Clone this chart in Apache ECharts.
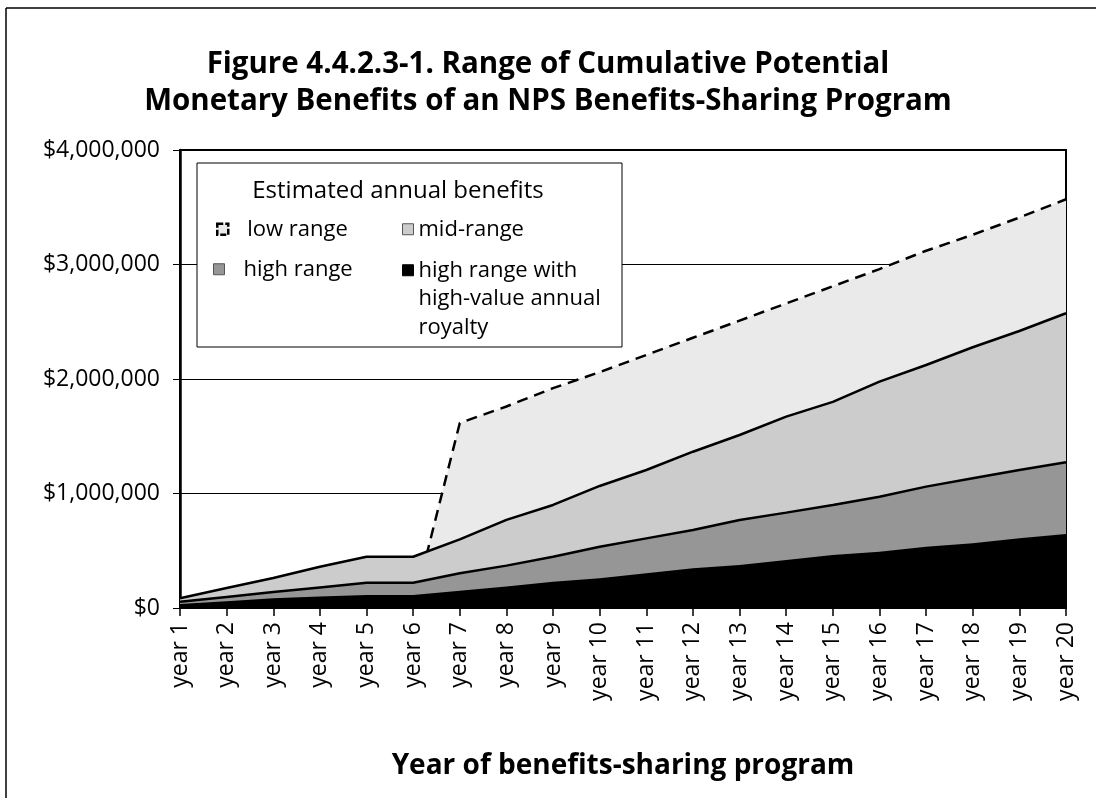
<!DOCTYPE html>
<html>
<head>
<meta charset="utf-8">
<script src="https://cdn.jsdelivr.net/npm/echarts@6/dist/echarts.min.js"></script>
<style>
  html, body { margin: 0; padding: 0; background: #fff; }
  #chart { width: 1096px; height: 798px; }
</style>
</head>
<body>
<div id="chart"></div>
<script>
// 年份分类
const years = ['year 1', 'year 2', 'year 3', 'year 4', 'year 5', 'year 6', 'year 7', 'year 8', 'year 9', 'year 10',
  'year 11', 'year 12', 'year 13', 'year 14', 'year 15', 'year 16', 'year 17', 'year 18', 'year 19', 'year 20'];

// 各方案累计收益
const lowRange = [null, null, null, null, null, 0, 1616000, 1760000, 1920000, 2060000,
  2210000, 2360000, 2510000, 2660000, 2810000, 2960000, 3120000, 3260000, 3410000, 3570000];
const midRange = [85000, 175000, 262000, 361000, 448000, 448000, 600000, 770000, 900000, 1066000,
  1205000, 1365000, 1511000, 1671000, 1800000, 1977000, 2122000, 2277000, 2419000, 2574000];
const highRange = [55000, 97000, 140000, 180000, 221000, 221000, 303000, 370000, 448000, 535000,
  608000, 681000, 769000, 833000, 900000, 972000, 1060000, 1133000, 1205000, 1272000];
const royaltyRange = [35000, 60000, 85000, 100000, 114000, 114000, 151000, 188000, 230000, 259000,
  303000, 347000, 376000, 419000, 463000, 492000, 535000, 565000, 609000, 646000];

// y轴刻度
const yTicks = [0, 1000000, 2000000, 3000000, 4000000];

const FONT = '"Open Sans", "Noto Sans", sans-serif';
const NAME_LOW = 'low range';
const NAME_MID = 'mid-range';
const NAME_HIGH = 'high range';
const NAME_ROYALTY = 'high range with\nhigh-value annual\nroyalty';

const chart = echarts.init(document.getElementById('chart'));

const legendText = {
  color: '#000',
  fontFamily: FONT,
  fontSize: 22,
  lineHeight: 28.5
};

const option = {
  backgroundColor: '#fff',
  animation: false,
  textStyle: { fontFamily: FONT },
  title: {
    text: 'Figure 4.4.2.3-1. Range of Cumulative Potential\nMonetary Benefits of an NPS Benefits-Sharing Program',
    left: 'center',
    top: 41,
    padding: [5, 5, 5, 21],
    textStyle: {
      fontFamily: FONT,
      fontSize: 29.5,
      fontWeight: 'bold',
      lineHeight: 37,
      color: '#000'
    }
  },
  grid: {
    left: 180,
    right: 30,
    top: 150,
    bottom: 190,
    show: true,
    borderColor: '#000',
    borderWidth: 2,
    backgroundColor: '#fff'
  },
  legend: [
    {
      data: [{ name: NAME_LOW, itemStyle: { color: '#eaeaea', borderColor: '#000', borderWidth: 2.5, borderType: [6, 2] } }],
      left: 216, top: 215, padding: 0, z: 10,
      icon: 'rect', itemWidth: 11, itemHeight: 11,
      textStyle: Object.assign({ padding: [0, 0, 0, 14] }, legendText)
    },
    {
      data: [{ name: NAME_HIGH, itemStyle: { color: '#969696', borderColor: '#555', borderWidth: 1 } }],
      left: 213, top: 255, padding: 0, z: 10,
      icon: 'rect', itemWidth: 11, itemHeight: 11,
      textStyle: Object.assign({ padding: [0, 0, 0, 14] }, legendText)
    },
    {
      data: [{ name: NAME_MID, itemStyle: { color: '#cccccc', borderColor: '#555', borderWidth: 1 } }],
      left: 402, top: 215, padding: 0, z: 10,
      icon: 'rect', itemWidth: 11, itemHeight: 11,
      textStyle: legendText
    },
    {
      // 多行图例：前面补两个空行，使第一行与图标对齐
      data: [{ name: NAME_ROYALTY, itemStyle: { color: '#000', borderColor: '#000', borderWidth: 1 } }],
      left: 402, top: 199, padding: 0, z: 10,
      icon: 'rect', itemWidth: 11, itemHeight: 11,
      formatter: name => '\n\n' + name,
      textStyle: legendText
    }
  ],
  graphic: [
    // 外框（上、左）
    { type: 'line', z: 10, shape: { x1: 6, y1: 8, x2: 1096, y2: 8 }, style: { stroke: '#000', lineWidth: 1.5 } },
    { type: 'line', z: 10, shape: { x1: 6, y1: 8, x2: 6, y2: 798 }, style: { stroke: '#000', lineWidth: 1.5 } },
    // 图例框
    { type: 'rect', z: 8, shape: { x: 197, y: 163, width: 425, height: 184 }, style: { fill: '#fff', stroke: '#000', lineWidth: 1 } },
    {
      type: 'text', z: 9, x: 398, y: 191,
      style: { text: 'Estimated annual benefits', fontFamily: FONT, fontSize: 24, fill: '#000', align: 'center', verticalAlign: 'middle' }
    }
  ],
  xAxis: {
    type: 'category',
    data: years,
    boundaryGap: false,
    name: 'Year of benefits-sharing program',
    nameLocation: 'middle',
    nameGap: 144,
    nameTextStyle: { fontFamily: FONT, fontSize: 28, fontWeight: 'bold', color: '#000' },
    axisLine: { lineStyle: { color: '#000', width: 1 } },
    axisTick: { show: true, length: 8, lineStyle: { color: '#000', width: 1.5 } },
    axisLabel: { rotate: 90, fontSize: 23, color: '#000', margin: 14, interval: 0 },
    splitLine: { show: false }
  },
  yAxis: {
    type: 'value',
    min: yTicks[0],
    max: yTicks[yTicks.length - 1],
    interval: yTicks[1] - yTicks[0],
    axisLine: { show: true, lineStyle: { color: '#000', width: 2.5 } },
    axisTick: { show: true, length: 7, lineStyle: { color: '#000', width: 1 } },
    axisLabel: {
      fontSize: 23,
      color: '#000',
      margin: 20,
      formatter: v => '$' + v.toLocaleString('en-US')
    },
    splitLine: { show: true, lineStyle: { color: '#000', width: 1 } }
  },
  // 各面积依次叠放（不累加），后画的盖住前面的线
  series: [
    {
      name: NAME_LOW,
      type: 'line',
      z: 2,
      data: lowRange,
      symbol: 'none',
      itemStyle: { color: '#eaeaea' },
      lineStyle: { color: '#000', width: 2.5, type: [11, 7] },
      areaStyle: { color: '#eaeaea', opacity: 1 }
    },
    {
      name: NAME_MID,
      type: 'line',
      z: 3,
      data: midRange,
      symbol: 'none',
      itemStyle: { color: '#cccccc' },
      lineStyle: { color: '#000', width: 2.5 },
      areaStyle: { color: '#cccccc', opacity: 1 }
    },
    {
      name: NAME_HIGH,
      type: 'line',
      z: 4,
      data: highRange,
      symbol: 'none',
      itemStyle: { color: '#969696' },
      lineStyle: { color: '#000', width: 2.5 },
      areaStyle: { color: '#969696', opacity: 1 }
    },
    {
      name: NAME_ROYALTY,
      type: 'line',
      z: 5,
      data: royaltyRange,
      symbol: 'none',
      itemStyle: { color: '#000' },
      lineStyle: { color: '#000', width: 0 },
      areaStyle: { color: '#000', opacity: 1 }
    }
  ]
};

chart.setOption(option);
</script>
</body>
</html>
